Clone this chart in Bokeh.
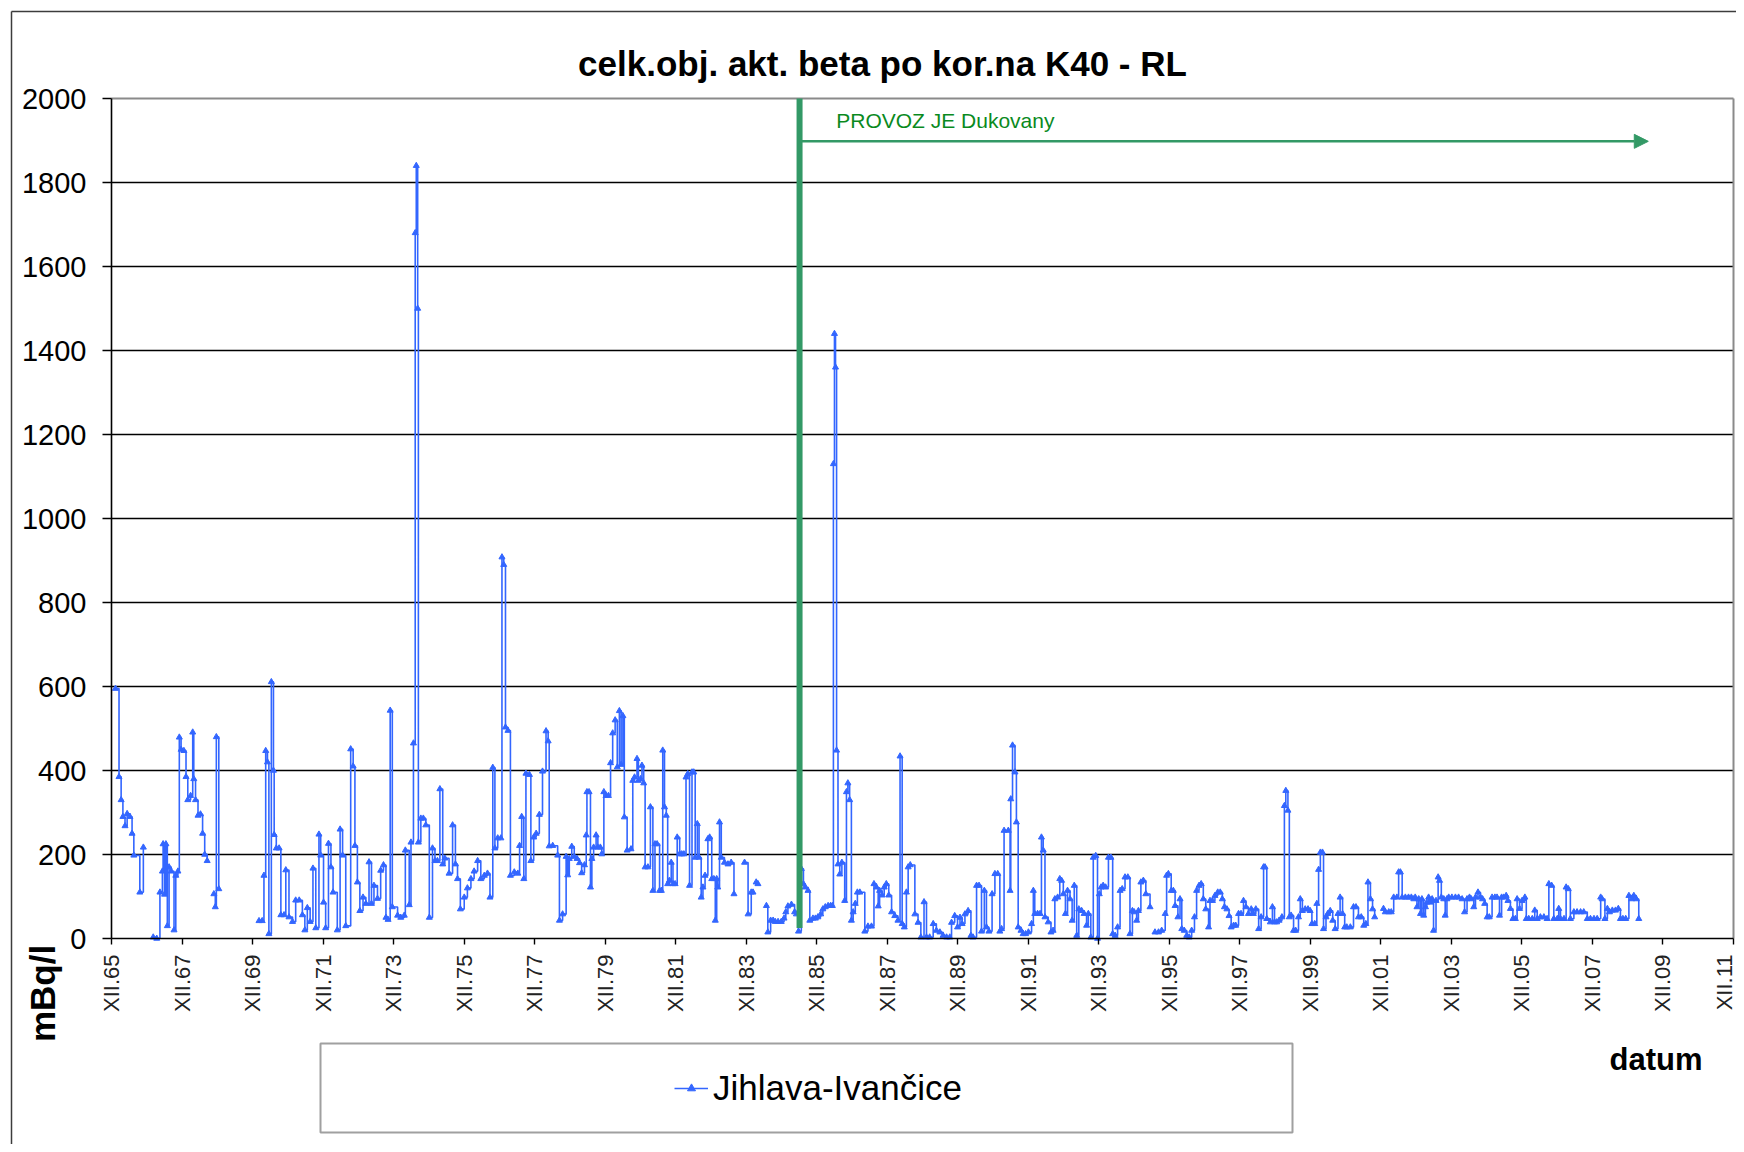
import math
from bokeh.plotting import figure
from bokeh.models import (FixedTicker, Label, Legend, LegendItem, Arrow, NormalHead, Range1d)
from bokeh.core.properties import value
from bokeh.embed import file_html
from bokeh.resources import INLINE

TITLE = "celk.obj. akt. beta po kor.na K40 - RL"
SERIES_NAME = "Jihlava-Ivančice"
Y_LABEL = "mBq/l"
X_LABEL = "datum"
EVENT_TEXT = "PROVOZ JE Dukovany"

# measurement dates (decimal years) and values (mBq/l); None = gap in record
DATES = [
    1966.03, 1966.13, 1966.19, 1966.24, 1966.30, 1966.36, 1966.44, 1966.50, 1966.55, 1966.72, 1966.82, 1966.95,
    1967.10, 1967.20, 1967.29, 1967.36, 1967.38, 1967.42, 1967.46, 1967.50, 1967.55, 1967.61, 1967.69, 1967.74,
    1967.80, 1967.84, 1967.89, 1967.97, 1968.03, 1968.08, 1968.16, 1968.22, 1968.25, 1968.30, 1968.37, 1968.44,
    1968.50, 1968.56, 1968.63, 1968.70,
    1968.82, 1968.86, 1968.89, 1968.96, 1969.50,
    1970.10, 1970.19, 1970.24, 1970.29, 1970.34, 1970.38, 1970.45, 1970.51, 1970.53, 1970.59, 1970.67, 1970.72,
    1970.81, 1970.86, 1970.95, 1971.05, 1971.14, 1971.24, 1971.33, 1971.40, 1971.47, 1971.55, 1971.63, 1971.71,
    1971.80, 1971.85, 1971.93, 1971.99, 1972.07, 1972.14, 1972.20, 1972.32, 1972.40, 1972.47, 1972.56, 1972.70,
    1972.77, 1972.82, 1972.89, 1972.96, 1973.05, 1973.13, 1973.22, 1973.29, 1973.36, 1973.46, 1973.55, 1973.63,
    1973.70, 1973.76, 1973.82, 1973.88, 1974.03, 1974.12, 1974.22, 1974.25, 1974.36, 1974.41, 1974.48, 1974.53,
    1974.56, 1974.60, 1974.62, 1974.69, 1974.76, 1974.83, 1974.93, 1975.02, 1975.09, 1975.16, 1975.23, 1975.31,
    1975.37, 1975.49, 1975.59, 1975.67, 1975.73, 1975.81, 1975.92, 1976.01, 1976.11, 1976.20, 1976.30, 1976.39,
    1976.49, 1976.58, 1976.65, 1976.73, 1976.79, 1976.87, 1976.96, 1976.99, 1977.04, 1977.09, 1977.16, 1977.23,
    1977.34, 1977.44, 1977.49, 1977.55, 1977.61, 1977.67, 1977.77, 1977.81, 1977.89, 1977.96, 1978.05, 1978.14,
    1978.24, 1978.30, 1978.33, 1978.43, 1978.57, 1978.62, 1978.71, 1978.81, 1978.855, 1978.90, 1978.97, 1979.04,
    1979.12, 1979.19, 1979.25, 1979.33, 1979.38, 1979.40, 1979.46, 1979.50, 1979.54, 1979.59, 1979.66, 1979.71,
    1979.78, 1979.82, 1979.88, 1979.94, 1980.01, 1980.07, 1980.13, 1980.20, 1980.26, 1980.32, 1980.37, 1980.42,
    1980.46, 1980.54, 1980.65, 1980.70, 1980.75, 1980.82, 1980.86, 1980.92, 1980.96, 1981.01, 1981.05, 1981.13,
    1981.20, 1981.27, 1981.33, 1981.39, 1981.46, 1981.51, 1981.55, 1981.60, 1981.65, 1981.69, 1981.74, 1981.79,
    1981.84, 1981.90, 1981.96, 1982.03, 1982.09, 1982.15, 1982.21, 1982.26, 1982.31, 1982.38, 1982.43, 1982.47,
    1982.53, 1982.58, 1982.64, 1982.69, 1982.75, 1982.83, 1982.88, 1982.94, 1983.00, 1983.04, 1983.08, 1983.11,
    1983.16, 1983.21, 1983.30, 1983.40, 1983.49, 1983.57, 1983.70,
    1983.87, 1983.97, 1984.06, 1984.11, 1984.15,
    1984.20, 1984.25, 1984.35,
    1984.49, 1984.53, 1984.61, 1984.68, 1984.74, 1984.82, 1984.91, 1984.99, 1985.04, 1985.10, 1985.20, 1985.29,
    1985.34, 1985.40, 1985.48, 1985.54, 1985.59, 1985.67, 1985.72, 1985.81, 1985.88, 1985.95, 1986.03, 1986.09,
    1986.16, 1986.24, 1986.31, 1986.36, 1986.39, 1986.42, 1986.45, 1986.48, 1986.52, 1986.57, 1986.63, 1986.71,
    1986.76, 1986.80, 1986.85, 1986.90, 1986.95, 1987.01, 1987.07, 1987.14, 1987.28, 1987.37, 1987.47, 1987.54,
    1987.61, 1987.66, 1987.70, 1987.77, 1987.83, 1987.89, 1987.96, 1988.04, 1988.13, 1988.22, 1988.28, 1988.34,
    1988.40, 1988.46, 1988.51, 1988.57, 1988.70, 1988.79, 1988.87, 1988.96, 1989.03, 1989.12, 1989.22, 1989.31,
    1989.41, 1989.50, 1989.60, 1989.69, 1989.74, 1989.83, 1989.91, 1989.98, 1990.04, 1990.12, 1990.21, 1990.29,
    1990.35, 1990.45, 1990.52, 1990.59, 1990.67, 1990.73, 1990.80, 1990.89, 1990.97, 1991.05, 1991.11, 1991.16,
    1991.23, 1991.35, 1991.40, 1991.42, 1991.47, 1991.54, 1991.58, 1991.63, 1991.71, 1991.77, 1991.84, 1991.92,
    1992.01, 1992.06, 1992.10, 1992.18, 1992.25, 1992.29, 1992.34, 1992.39, 1992.48, 1992.56, 1992.62, 1992.67,
    1992.75, 1992.81, 1992.86, 1992.91, 1992.97, 1993.03, 1993.10, 1993.16, 1993.22, 1993.29, 1993.35, 1993.43,
    1993.50, 1993.57, 1993.62, 1993.69, 1993.76, 1993.83, 1993.88, 1993.93, 1993.98, 1994.04, 1994.11, 1994.19,
    1994.26, 1994.31, 1994.38, 1994.45, 1994.52, 1994.58, 1994.66, 1994.74, 1994.80, 1994.87, 1994.92, 1994.99,
    1995.04, 1995.11, 1995.18, 1995.25, 1995.37, 1995.44,
    1995.51, 1995.61, 1995.70, 1995.80, 1995.84, 1995.89, 1995.97, 1996.03, 1996.08, 1996.16, 1996.22, 1996.27,
    1996.34, 1996.41, 1996.48, 1996.55, 1996.63, 1996.69, 1996.76, 1996.82, 1996.88, 1996.95, 1997.03, 1997.07,
    1997.14, 1997.21, 1997.29, 1997.36, 1997.42, 1997.48, 1997.55, 1997.61, 1997.67, 1997.74, 1997.80, 1997.88,
    1997.95, 1998.02, 1998.09, 1998.16, 1998.24, 1998.30, 1998.37, 1998.45, 1998.52, 1998.59, 1998.63, 1998.68,
    1998.78, 1998.84, 1998.90, 1998.96, 1999.03, 1999.11, 1999.18, 1999.22, 1999.28, 1999.32, 1999.37, 1999.44,
    1999.50, 1999.58, 1999.63, 1999.69, 1999.77, 1999.85, 1999.91, 1999.96, 2000.04, 2000.10, 2000.15, 2000.20,
    2000.26, 2000.29, 2000.36, 2000.41, 2000.48, 2000.55, 2000.62, 2000.70, 2000.76, 2000.83, 2000.89, 2000.95,
    2001.05, 2001.14, 2001.21, 2001.28, 2001.36, 2001.43, 2001.49, 2001.55, 2001.62, 2001.68, 2001.74, 2001.85,
    2001.99, 2002.04, 2002.14, 2002.21, 2002.28, 2002.37, 2002.42, 2002.47, 2002.52, 2002.61, 2002.70, 2002.78,
    2002.85, 2002.89, 2002.94, 2002.99, 2003.04, 2003.08, 2003.13, 2003.18, 2003.22, 2003.27, 2003.32, 2003.37,
    2003.41, 2003.48, 2003.54, 2003.58, 2003.63, 2003.70, 2003.74, 2003.79, 2003.84, 2003.93, 2004.03, 2004.12,
    2004.22, 2004.29, 2004.36, 2004.43, 2004.48, 2004.55, 2004.60, 2004.67, 2004.74, 2004.80, 2004.86, 2004.93,
    2004.99, 2005.07, 2005.15, 2005.21, 2005.28, 2005.34, 2005.40, 2005.47, 2005.52, 2005.59, 2005.66, 2005.73,
    2005.78, 2005.85, 2005.92, 2006.00, 2006.04, 2006.11, 2006.21, 2006.28, 2006.35, 2006.44, 2006.54, 2006.63,
    2006.68, 2006.76, 2006.82, 2006.92, 2006.96, 2007.01, 2007.11, 2007.17, 2007.23, 2007.29, 2007.39, 2007.48,
    2007.58, 2007.67, 2007.77, 2007.86, 2007.96, 2008.05, 2008.15, 2008.19, 2008.27, 2008.34, 2008.40, 2008.48,
    2008.57, 2008.65, 2008.71, 2008.78, 2008.86, 2008.95, 2009.03, 2009.09, 2009.16, 2009.23,
]

VALUES = [
    595, 385, 330, 290, 268, 297, 290, 250, 198, 110, 217, None,
    3, 0, 110, 160, 225, 105, 225, 30, 170, 160, 20, 150,
    160, 479, 450, 447, 385, 330, 340, 491, 380, 330, 293, 296,
    250, 200, 185, None,
    106, 75, 480, 118, None,
    42, 42, 150, 447, 420, 11, 611, 400, 247, 215, 215, 56,
    56, 163, 51, 40, 91, 91, 56, 20, 73, 40, 167, 25,
    248, 198, 86, 25, 226, 170, 110, 20, 260, 198, 30, 451,
    410, 221, 134, 66, 98, 83, 182, 83, 126, 95, 162, 175,
    50, 45, 543, 75, 55, 50, 55, 210, 80, 229, 465, 1680,
    1840, 1500, 229, 286, 286, 270, 50, 215, 185, 185, 356, 177,
    191, 155, 270, 177, 142, 70, 98, 120, 142, 160, 185, 142,
    150, 155, 98, 407, 215, 239, 239, 908, 890, 503, 495, 150,
    158, 155, 221, 290, 142, 393, 390, 185, 241, 250, 295, 398,
    494, 470, 220, 221, 198, 43, 58, 195, 151, 190, 219, 195,
    190, 180, 156, 175, 246, 349, 349, 122, 190, 217, 246, 217,
    217, 201, 349, 340, 340, 418, 489, 520, 408, 542, 414, 530,
    289, 210, 213, 376, 384, 428, 376, 380, 412, 370, 170, 170,
    313, 114, 225, 225, 114, 114, 448, 313, 293, 130, 138, 181,
    130, 130, 241, 201, 201, 201, 384, 392, 126, 396, 396, 193,
    273, 193, 98, 122, 150, 237, 241, 142, 142, 43, 142, 122,
    277, 193, 181, 177, 181, 106, None,
    181, 58, 110, 110, None,
    134, 130, None,
    78, 15, 43, 43, 40, 40, 40, 48, 63, 77, 81, 63,
    58, 17, 166, 130, 122, 114, 43, 48, 48, 51, 58, 70,
    75, 78, 78, 78, 1130, 1440, 1360, 448, 177, 153, 181, 90,
    349, 370, 330, 43, 63, 83, 110, 110, 17, 29, 29, 130,
    122, 77, 114, 103, 122, 130, 103, 63, 54, 43, 434, 35,
    27, 110, 170, 175, 58, 38, 3, 87, 3, 3, 35, 19,
    15, 7, 3, 3, 38, 54, 27, 50, 35, 58, 66, 7,
    3, 126, 126, 17, 114, 27, 17, 106, 154, 154, 17, 23,
    257, 257, 114, 332, 460, 396, 277, 27, 19, 11, 11, 15,
    35, 114, 59, 59, 59, 241, 210, 51, 39, 15, 19, 94,
    98, 142, 138, 106, 59, 114, 94, 43, 126, 7, 70, 66,
    59, 31, 59, 3, 193, 197, 0, 106, 122, 126, 122, 193,
    193, 11, 7, 27, 114, 118, 146, 146, 11, 66, 63, 43,
    66, 134, 138, 106, 75, None,
    15, 15, 19, 59, 150, 154, 114, 114, 78, 51, 94, 23,
    19, 7, 3, 19, 51, 114, 126, 130, 94, 70, 27, 90,
    90, 102, 110, 110, 94, 75, 70, 54, 27, 31, 31, 59,
    59, 90, 75, 59, 70, 59, 70, 23, 51, 170, 170, 47,
    39, 75, 39, 39, 43, 51, 316, 352, 305, 51, 55, 19,
    19, 51, 94, 66, 70, 70, 66, 35, 35, 83, 164, 205,
    205, 23, 51, 59, 66, 43, 23, 59, 98, 59, 27, 27,
    27, 75, 75, 51, 51, 31, 35, 134, 94, 70, 51, None,
    71, 63, 63, 63, 98, 98, 158, 158, 98, 98, 98, 98,
    94, 98, 75, 94, 59, 94, 55, 75, 86, 98, 86, 94,
    19, 90, 146, 138, 98, 94, 55, 94, 98, 98, 98, 98,
    94, 63, 94, 98, 94, 75, 98, 110, 98, 94, 83, 51,
    51, 98, 98, 98, 55, 98, 98, 102, 90, 71, 47, 47,
    94, 71, 90, 98, 47, 47, 47, 67, 47, 51, 51, 47,
    130, 126, 47, 47, 71, 47, 47, 122, 118, 47, 63, 63,
    63, 63, 47, 47, 47, 47, 98, 94, 47, 71, 63, 67,
    67, 71, 47, 47, 47, 102, 94, 102, 94, 47,
]

Y_TICKS = [0, 200, 400, 600, 800, 1000, 1200, 1400, 1600, 1800, 2000]
TICK_YEARS = list(range(1965, 2012, 2))
TICK_POS = [y + 11 / 12 for y in TICK_YEARS]
TICK_LABELS = ["XII.%02d" % (y % 100) for y in TICK_YEARS]

EVENT_DATE = 1985.43      # start of Dukovany operation
EVENT_LINE_BOTTOM = 25
ARROW_LEVEL = 1898
ARROW_END = 2009.5
EVENT_TEXT_POS = (1986.47, 1948)

BLUE = "#3366FF"
GREEN = "#339966"
TEXT_GREEN = "#0a8a1e"
FONT = "Liberation Sans"

# ---- layout (canvas pixels) ----
W, H = 1736, 1144
PL, PR, PT, PB = 111, 1733, 98, 938      # plot area edges on the canvas
X0, X1 = TICK_POS[0], TICK_POS[-1]
Y0, Y1 = Y_TICKS[0], Y_TICKS[-1]
kx = (PR - PL) / (X1 - X0)
ky = (PB - PT) / (Y1 - Y0)


def px_x(px):
    return X0 + (px - PL) / kx


def px_y(py):
    return Y0 + (PB - py) / ky


def sy(cy):
    return H - cy


p = figure(width=W, height=H,
           x_range=Range1d(px_x(0), px_x(W)), y_range=Range1d(px_y(H), px_y(0)),
           output_backend="svg", toolbar_location=None,
           min_border=0, min_border_left=0, min_border_right=0,
           min_border_top=0, min_border_bottom=0)
p.background_fill_color = "white"
p.border_fill_color = "white"
p.outline_line_color = None
p.xgrid.visible = False
p.ygrid.visible = False

# horizontal gridlines inside the plot area only
grid_levels = Y_TICKS[1:-1]
p.segment(x0=[X0] * len(grid_levels), y0=grid_levels, x1=[X1] * len(grid_levels), y1=grid_levels,
          line_color="black", line_width=1.4)

# plot-area border (top & right, grey)
p.segment(x0=[X0, X1], y0=[Y1, Y0], x1=[X1, X1], y1=[Y1, Y1],
          line_color="#8a8a8a", line_width=2)

p.yaxis.fixed_location = X0
p.yaxis.bounds = (Y0, Y1)
p.yaxis.ticker = FixedTicker(ticks=Y_TICKS)
p.yaxis.major_label_text_font = FONT
p.yaxis.major_label_text_font_size = "29px"
p.yaxis.major_label_text_color = "black"
p.yaxis.axis_line_color = "black"
p.yaxis.axis_line_width = 1.6
p.yaxis.major_tick_line_color = "black"
p.yaxis.major_tick_line_width = 1.4
p.yaxis.major_tick_out = 9
p.yaxis.major_tick_in = 0
p.yaxis.minor_tick_line_color = None
p.yaxis.major_label_standoff = 16

p.xaxis.fixed_location = Y0
p.xaxis.bounds = (X0, X1)
p.xaxis.ticker = FixedTicker(ticks=TICK_POS)
p.xaxis.major_label_overrides = {t: lab for t, lab in zip(TICK_POS, TICK_LABELS)}
p.xaxis.major_label_orientation = math.pi / 2
p.xaxis.major_label_text_font = FONT
p.xaxis.major_label_text_font_size = "22px"
p.xaxis.major_label_text_color = "#222222"
p.xaxis.axis_line_color = "black"
p.xaxis.axis_line_width = 1.6
p.xaxis.major_tick_line_color = "black"
p.xaxis.major_tick_line_width = 1.4
p.xaxis.major_tick_out = 6
p.xaxis.major_tick_in = 0
p.xaxis.minor_tick_line_color = None
p.xaxis.major_label_standoff = 10

# split record into continuous runs
segments = []
cx, cy = [], []
for d, v in zip(DATES, VALUES):
    if v is None:
        if cx:
            segments.append((cx, cy))
        cx, cy = [], []
    else:
        cx.append(d)
        cy.append(v)
if cx:
    segments.append((cx, cy))

step_renderers = []
for sx_, sy_ in segments:
    r = p.step(sx_, sy_, mode="after", line_color=BLUE, line_width=1.6)
    step_renderers.append(r)

pts_x = [d for d, v in zip(DATES, VALUES) if v is not None]
pts_y = [v for v in VALUES if v is not None]
sc = p.scatter(pts_x, pts_y, marker="triangle", size=6, line_color=BLUE, fill_color=BLUE)

# Dukovany operation marker
p.segment(x0=[EVENT_DATE], y0=[EVENT_LINE_BOTTOM], x1=[EVENT_DATE], y1=[Y1],
          line_color=GREEN, line_width=6)
p.add_layout(Arrow(x_start=EVENT_DATE, y_start=ARROW_LEVEL, x_end=ARROW_END, y_end=ARROW_LEVEL,
                   line_color=GREEN, line_width=2.5,
                   end=NormalHead(size=14, fill_color=GREEN, line_color=GREEN)))
p.text(x=[EVENT_TEXT_POS[0]], y=[EVENT_TEXT_POS[1]], text=[EVENT_TEXT], text_font=value(FONT),
       text_font_size="21px", text_color=TEXT_GREEN, text_baseline="middle", text_align="left")

# outer chart frame (top and left edges are visible)
p.segment(x0=[px_x(11), px_x(11)], y0=[px_y(11), px_y(11)], x1=[px_x(W + 10), px_x(11)],
          y1=[px_y(11), px_y(H + 10)], line_color="#3c3c3c", line_width=1.5)

# legend box
p.quad(left=[px_x(320)], right=[px_x(1292)], top=[px_y(1043)], bottom=[px_y(1132)],
       fill_color=None, line_color="#a0a0a0", line_width=2)

# title
p.add_layout(Label(x=882, y=sy(63), x_units="screen", y_units="screen", text=TITLE,
                   text_font=FONT, text_font_style="bold", text_font_size="35px",
                   text_align="center", text_baseline="middle", text_color="black"))

# y label (bottom-left, vertical)
p.add_layout(Label(x=42, y=sy(993), x_units="screen", y_units="screen", text=Y_LABEL,
                   text_font=FONT, text_font_style="bold", text_font_size="35px",
                   text_align="center", text_baseline="middle", angle=math.pi / 2,
                   text_color="black"))

# x label
p.add_layout(Label(x=1609, y=sy(1059), x_units="screen", y_units="screen", text=X_LABEL,
                   text_font=FONT, text_font_style="bold", text_font_size="31px",
                   text_align="left", text_baseline="middle", text_color="black"))

legend = Legend(items=[LegendItem(label=SERIES_NAME, renderers=[step_renderers[0], sc])],
                location=(674, sy(1108)), padding=0, margin=0, spacing=0,
                glyph_width=34, glyph_height=20, label_height=40, label_standoff=5,
                label_text_font=FONT, label_text_font_size="35px", label_text_color="black",
                border_line_color=None, background_fill_alpha=0)
p.add_layout(legend)

open("out.html", "w").write(file_html(p, INLINE))
